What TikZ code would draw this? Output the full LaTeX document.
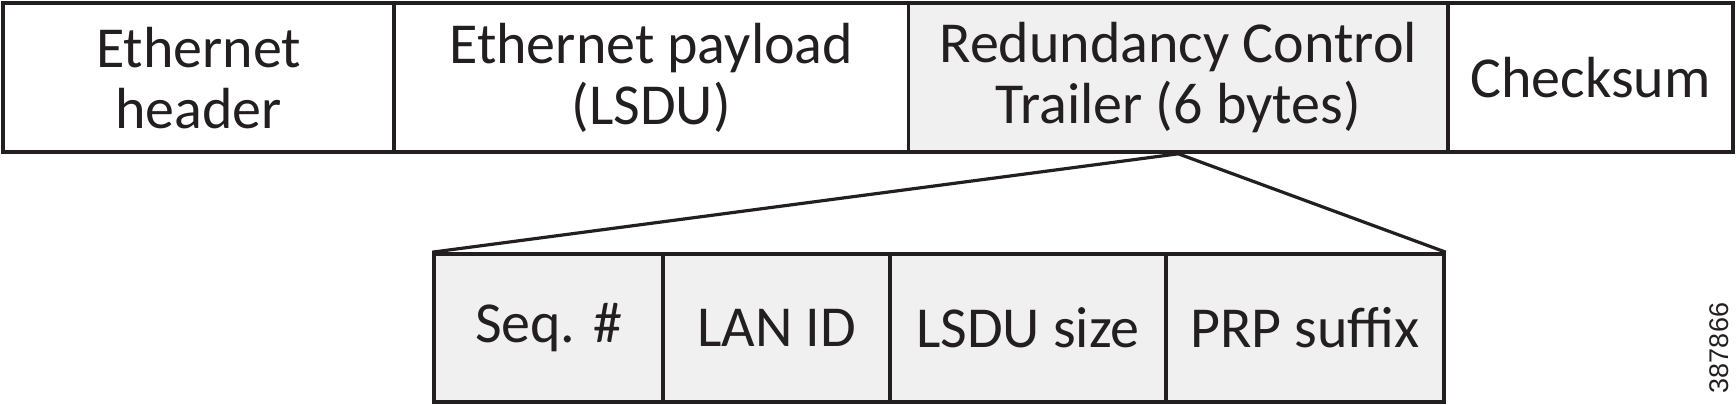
\documentclass[tikz,border=0pt]{standalone}
\usepackage{fontspec}
\setmainfont{Carlito}
\newfontfamily\labfont{Liberation Sans}
\definecolor{ink}{HTML}{231F20}
\definecolor{shade}{HTML}{F0F0F0}
\begin{document}
\begin{tikzpicture}[x=0.5pt,y=-0.5pt,
  cell/.style={draw=ink,line width=1.8pt,rectangle,inner sep=0pt,align=center,
    text=ink,font=\fontsize{29}{30.5}\selectfont},
  toprow/.style={cell,minimum height=74.35pt},
  botrow/.style={cell,minimum height=74pt,fill=shade},
  zoomline/.style={draw=ink,line width=1.6pt}]
\useasboundingbox (0,0) rectangle (1736,405);
% top frame
\node[toprow,minimum width=195.35pt] (eh)  at (198.65,77.65) {Ethernet\\header};
\node[toprow,minimum width=257.25pt] (pl)  at (651.25,77.65) {Ethernet payload\\(LSDU)};
\node[toprow,minimum width=269.75pt,fill=shade] (rct) at (1178.25,77.65) {Redundancy Control\\Trailer (6 bytes)};
\node[toprow,minimum width=142.5pt] (cs)  at (1590.5,77.65) {Checksum};
% trailer detail
\node[botrow,minimum width=114.5pt] (seq)  at (548.5,328) {Seq. \#};
\node[botrow,minimum width=113.5pt] (lan)  at (776.5,328) {LAN ID};
\node[botrow,minimum width=138pt]   (lsdu) at (1028,328)  {LSDU size};
\node[botrow,minimum width=139pt]   (prp)  at (1305,328)  {PRP suffix};
% zoom lines
\draw[zoomline] (rct.south) -- (seq.north west);
\draw[zoomline] (rct.south) -- (prp.north east);
% figure number
\node[rotate=90,text=ink,font=\labfont\fontsize{13.5}{15}\selectfont,inner sep=0pt] (fig) at (1719,348) {387866};
\end{tikzpicture}
\end{document}
